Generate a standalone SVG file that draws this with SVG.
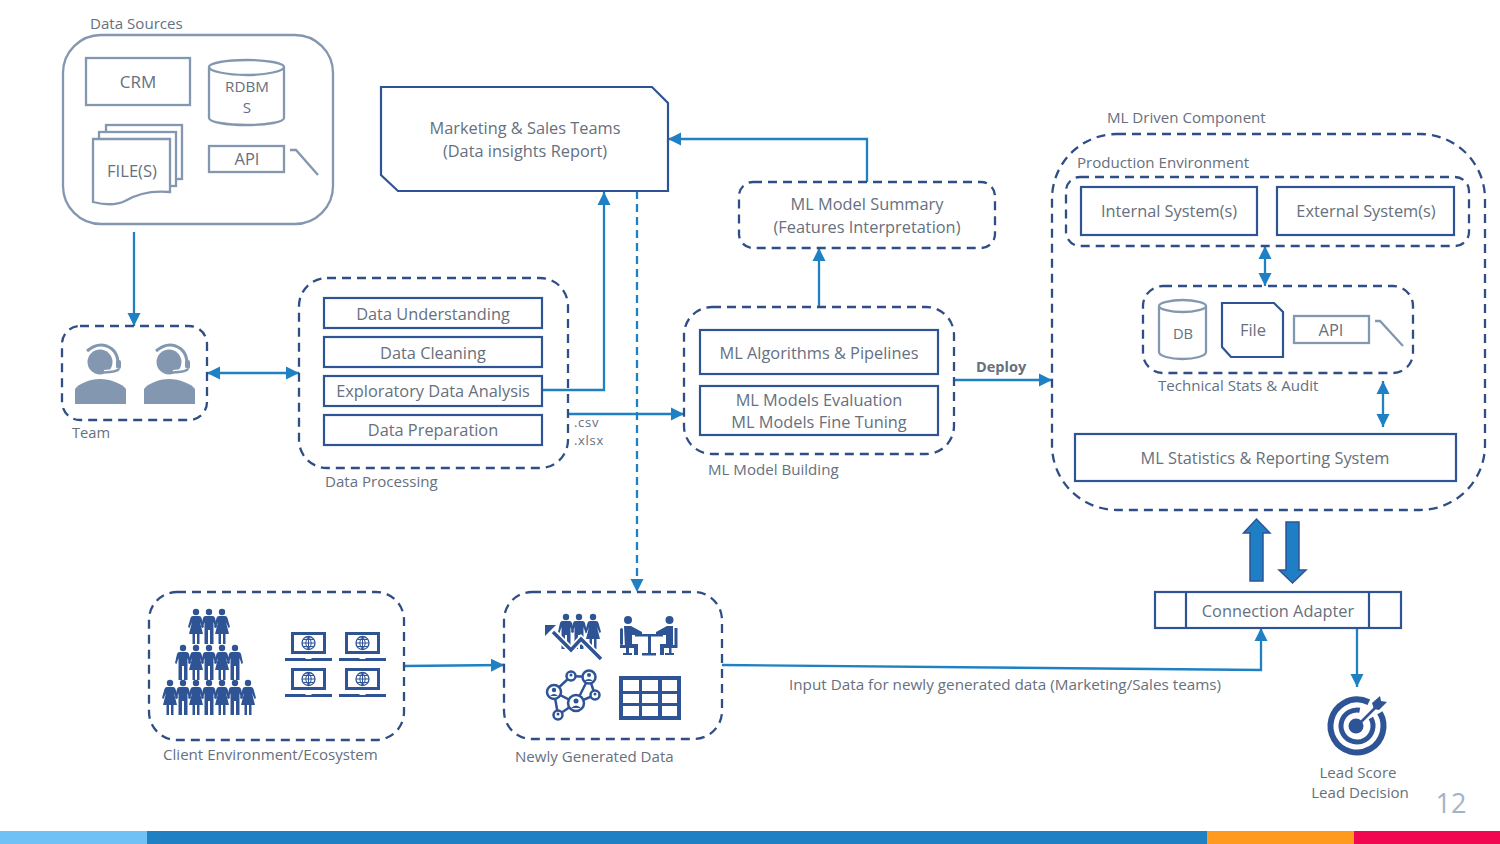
<svg xmlns="http://www.w3.org/2000/svg" xmlns:xlink="http://www.w3.org/1999/xlink" width="1500" height="844" viewBox="0 0 1500 844">
<style>
text{font-family:"Open Sans","Noto Sans","DejaVu Sans",sans-serif;fill:#66707E;font-size:15.1px}
.m{text-anchor:middle}
.l{font-size:16.35px}
.s{font-size:14.7px}
.x{font-size:13px;letter-spacing:.7px}
.g{fill:none;stroke:#8497B0;stroke-width:2.3}
.gw{fill:#fff;stroke:#8497B0;stroke-width:2.3}
.d{fill:none;stroke:#2F4E86;stroke-width:2.3;stroke-dasharray:9 6}
.b{fill:#fff;stroke:#2F5496;stroke-width:2.2}
.c{fill:none;stroke:#1F80C4;stroke-width:2.3}
.i{fill:#2F5496}
.ba{fill:#1F7FC4;stroke:#2F5496;stroke-width:1.5}
</style>
<defs>
<marker id="a" markerUnits="userSpaceOnUse" markerWidth="14" markerHeight="14" refX="13" refY="7" orient="auto-start-reverse"><path d="M0 0.5L13 7L0 13.500Z" fill="#1F80C4"/></marker>
<g id="man"><circle cx="0" cy="3" r="3.200"/><path d="M-3.500 7H3.500Q5.500 7 6 9L8 18L6.500 19L4.500 13V35H1V21H-1V35H-4.500V13L-6.500 19L-8 18L-6 9Q-5.500 7 -3.500 7Z"/></g>
<g id="woman"><circle cx="0" cy="3" r="3.200"/><path d="M-3 7H3Q5 7 5.500 9L8 18L6.500 19L4 13L7 25H3.500V35H1V25H-1V35H-3.500V25H-7L-4 13L-6.500 19L-8 18L-5.500 9Q-5 7 -3 7Z"/></g>
<g id="laptop"><rect x="7.500" y="1.500" width="32" height="19" fill="#fff" stroke="#2F5496" stroke-width="3"/><path d="M0 26H20L21 27H26L27 26H47V29H0Z" class="i"/><circle cx="23.500" cy="11" r="6.500" fill="#fff" stroke="#2F5496" stroke-width="1.300"/><path d="M17 11H30M23.500 4.500V17.500M18.500 7.500H28.500M18.500 14.500H28.500M23.500 4.500Q18 11 23.500 17.500Q29 11 23.500 4.500" fill="none" stroke="#2F5496" stroke-width="1"/></g>
<g id="agent" fill="#8497B0"><circle cx="25" cy="18" r="12.500"/><path d="M0 60V45C3 40 15 35 25 35S48 40 51 45V60Z"/><path d="M12 7Q25 -4 37 5Q43 10 43 20" fill="none" stroke="#8497B0" stroke-width="3"/><rect x="41" y="16" width="5" height="9" rx="2"/><path d="M44 25Q42 28 29 28.500" fill="none" stroke="#fff" stroke-width="5"/><path d="M44 25Q42 28 29 28.500" fill="none" stroke="#8497B0" stroke-width="2.500"/></g>
</defs>

<rect width="1500" height="844" fill="#fff"/>

<g id="footer">
<rect x="0" y="831" width="147" height="13" fill="#6FC1F6"/>
<rect x="147" y="831" width="1060" height="13" fill="#1F80C4"/>
<rect x="1207" y="831" width="147" height="13" fill="#FF9A1E"/>
<rect x="1354" y="831" width="146" height="13" fill="#F0074F"/>
<text x="1451" y="813" class="m" style="font-size:27px;fill:#A3B3C7">12</text>
</g>

<g id="connectors">
<path class="c" d="M134 232V326" marker-end="url(#a)"/>
<path class="c" d="M207 373H299" marker-start="url(#a)" marker-end="url(#a)"/>
<path class="c" d="M542 390H604V192" marker-end="url(#a)"/>
<path class="c" d="M637 191V592" stroke-dasharray="8 5" marker-end="url(#a)"/>
<path class="c" d="M568 414H684" marker-end="url(#a)"/>
<path class="c" d="M819 307V248" marker-end="url(#a)"/>
<path class="c" d="M867 182V139H668" marker-end="url(#a)"/>
<path class="c" d="M954 380H1052" marker-end="url(#a)"/>
<path class="c" d="M1265 246V286" marker-start="url(#a)" marker-end="url(#a)"/>
<path class="c" d="M1383 381V427" marker-start="url(#a)" marker-end="url(#a)"/>
<path class="c" d="M1357 628V687" marker-end="url(#a)"/>
<path class="c" d="M404 666L504 665" marker-end="url(#a)"/>
<path class="c" d="M722 665L1261 670V628" marker-end="url(#a)"/>
<path class="ba" d="M1250 581V533H1243.500L1256.500 519L1270 533H1263V581Z"/>
<path class="ba" d="M1286 522H1299V570H1306L1292.500 583L1279 570H1286Z"/>
</g>

<g id="data-sources">
<text x="90" y="29">Data Sources</text>
<rect class="g" x="63" y="35" width="270" height="189" rx="38"/>
<rect class="g" x="86" y="58" width="104" height="47"/>
<text x="138" y="88" class="m" style="font-size:17px">CRM</text>
<path class="g" d="M209 67V118C209 122 226 125 246.500 125S284 122 284 118V67C284 63 267 60 246.500 60S209 63 209 67C209 71 226 75 246.500 75S284 71 284 67"/>
<text x="247" y="92" class="m" style="font-size:15.2px">RDBM</text>
<text x="247" y="113" class="m" style="font-size:15.2px">S</text>
<rect class="g" x="209" y="146" width="75" height="26"/>
<text x="247" y="165" class="m" style="font-size:16.5px">API</text>
<path class="g" d="M290 150H296L318 175"/>
<rect class="gw" x="106" y="125" width="76" height="54"/>
<rect class="gw" x="99" y="132" width="77" height="54"/>
<path class="gw" d="M93 139H170V192C150 190 135 195 125 201C115 206 105 205 93 202Z"/>
<text x="132" y="177" class="m" style="font-size:16.6px">FILE(S)</text>
</g>

<g id="marketing">
<path class="b" d="M381 87H652L668 103V191H398L381 175Z"/>
<text x="525" y="134" class="m l">Marketing &amp; Sales Teams</text>
<text x="525" y="157" class="m l">(Data insights Report)</text>
</g>

<g id="ml-summary">
<rect class="d" x="739" y="182" width="256" height="66" rx="14"/>
<text x="867" y="210" class="m l">ML Model Summary</text>
<text x="867" y="233" class="m l">(Features Interpretation)</text>
</g>

<g id="team">
<rect class="d" x="62" y="326" width="145" height="94" rx="18"/>
<use xlink:href="#agent" href="#agent" x="75" y="344"/>
<use xlink:href="#agent" href="#agent" x="144" y="344"/>
<text x="72" y="438" class="s">Team</text>
</g>

<g id="data-processing">
<rect class="d" x="299" y="278" width="269" height="190" rx="28"/>
<rect class="b" x="324" y="298" width="218" height="30"/>
<text x="433" y="320" class="m l">Data Understanding</text>
<rect class="b" x="324" y="337" width="218" height="30"/>
<text x="433" y="359" class="m l">Data Cleaning</text>
<rect class="b" x="324" y="376" width="218" height="30"/>
<text x="433" y="397" class="m l">Exploratory Data Analysis</text>
<rect class="b" x="324" y="415" width="218" height="30"/>
<text x="433" y="436" class="m l">Data Preparation</text>
<text x="325" y="487">Data Processing</text>
</g>
<g id="file-formats">
<text x="574" y="427" class="x">.csv</text>
<text x="574" y="445" class="x">.xlsx</text>
</g>

<g id="ml-building">
<rect class="d" x="684" y="307" width="270" height="147" rx="28"/>
<rect class="b" x="700" y="330" width="238" height="44"/>
<text x="819" y="359" class="m l">ML Algorithms &amp; Pipelines</text>
<rect class="b" x="700" y="386" width="238" height="49"/>
<text x="819" y="406" class="m l">ML Models Evaluation</text>
<text x="819" y="428" class="m l">ML Models Fine Tuning</text>
<text x="708" y="475">ML Model Building</text>
</g>
<text id="deploy" x="976" y="372" style="font-weight:700;font-size:14.500px">Deploy</text>

<g id="ml-driven">
<text x="1107" y="123">ML Driven Component</text>
<rect class="d" x="1052" y="134" width="433" height="376" rx="65"/>
</g>
<g id="production">
<text x="1077" y="168">Production Environment</text>
<rect class="d" x="1066" y="177" width="403" height="69" rx="14"/>
<rect class="b" x="1081" y="187" width="176" height="48"/>
<text x="1169" y="217" class="m l">Internal System(s)</text>
<rect class="b" x="1277" y="187" width="177" height="48"/>
<text x="1366" y="217" class="m l">External System(s)</text>
</g>
<g id="technical">
<rect class="d" x="1143" y="286" width="270" height="87" rx="20"/>
<path class="g" d="M1159 306V352C1159 356 1170 359 1182.500 359S1206 356 1206 352V306C1206 303 1195 300 1182.500 300S1159 303 1159 306C1159 309 1170 312 1182.500 312S1206 309 1206 306"/>
<text x="1183" y="339" class="m s">DB</text>
<path class="b" d="M1222 303H1274L1283 312V357H1231L1222 347Z"/>
<text x="1253" y="336" class="m" style="font-size:16.5px">File</text>
<rect class="g" x="1294" y="316" width="75" height="27"/>
<text x="1331" y="336" class="m" style="font-size:16.5px">API</text>
<path class="g" d="M1375 321H1380L1403 346"/>
<text x="1158" y="391">Technical Stats &amp; Audit</text>
</g>
<g id="reporting">
<rect class="b" x="1075" y="434" width="381" height="47"/>
<text x="1265" y="464" class="m l">ML Statistics &amp; Reporting System</text>
</g>

<g id="adapter">
<rect class="b" x="1155" y="592" width="246" height="36"/>
<path class="b" d="M1186 592V628M1369 592V628"/>
<text x="1278" y="617" class="m l">Connection Adapter</text>
</g>

<g id="lead-score">
<circle cx="1357" cy="726" r="26.500" fill="none" stroke="#2F5496" stroke-width="6" stroke-dasharray="150 17" transform="rotate(-30 1357 726)"/>
<circle cx="1357" cy="726" r="16" fill="none" stroke="#2F5496" stroke-width="5" stroke-dasharray="86 15" transform="rotate(-30 1357 726)"/>
<circle cx="1356" cy="726" r="7.500" class="i"/>
<path d="M1358 725L1378 705" stroke="#2F5496" stroke-width="2.500"/>
<path class="i" d="M1372 703L1380 696L1381 701L1387 702L1379 710L1374 709Z"/>
<text x="1358" y="778" class="m">Lead Score</text>
<text x="1360" y="798" class="m">Lead Decision</text>
</g>

<g id="client-env">
<rect class="d" x="149" y="592" width="255" height="148" rx="28"/>
<g class="i">
<use xlink:href="#woman" href="#woman" x="196" y="609"/><use xlink:href="#man" href="#man" x="209" y="609"/><use xlink:href="#woman" href="#woman" x="222" y="609"/>
<use xlink:href="#man" href="#man" x="183" y="645"/><use xlink:href="#woman" href="#woman" x="196" y="645"/><use xlink:href="#man" href="#man" x="209" y="645"/><use xlink:href="#woman" href="#woman" x="222" y="645"/><use xlink:href="#man" href="#man" x="235" y="645"/>
<use xlink:href="#woman" href="#woman" x="170" y="680"/><use xlink:href="#man" href="#man" x="183" y="680"/><use xlink:href="#woman" href="#woman" x="196" y="680"/><use xlink:href="#man" href="#man" x="209" y="680"/><use xlink:href="#woman" href="#woman" x="222" y="680"/><use xlink:href="#man" href="#man" x="235" y="680"/><use xlink:href="#woman" href="#woman" x="248" y="680"/>
</g>
<use xlink:href="#laptop" href="#laptop" x="285" y="632"/>
<use xlink:href="#laptop" href="#laptop" x="339" y="632"/>
<use xlink:href="#laptop" href="#laptop" x="285" y="668"/>
<use xlink:href="#laptop" href="#laptop" x="339" y="668"/>
<text x="163" y="760">Client Environment/Ecosystem</text>
</g>

<g id="newly-generated">
<rect class="d" x="504" y="592" width="218" height="147" rx="28"/>
<g class="i">
<use xlink:href="#man" href="#man" x="566" y="614"/>
<use xlink:href="#man" href="#man" x="579" y="614"/>
<use xlink:href="#woman" href="#woman" x="593" y="614"/>
</g>
<path d="M553 632L571 650L581 639L601 659" fill="none" stroke="#fff" stroke-width="7"/>
<path d="M553 632L571 650L581 639L601 659" fill="none" stroke="#2F5496" stroke-width="3.500"/>
<path class="i" d="M545 625H556L545 636Z"/>
<g class="i">
<circle cx="628" cy="620" r="4"/>
<circle cx="669.500" cy="620" r="4"/>
<g id="seat-left">
<rect x="620" y="628" width="3" height="17" rx="1.500"/>
<rect x="620" y="645" width="15" height="3"/><rect x="626" y="648" width="3" height="5"/><rect x="623" y="653" width="9" height="2"/>
<path d="M624 626H631L642 632V635H632V644H638V655H634V648H625Z"/>
</g>
<path d="M677.500 628H674.500V645H662V648H669V653H665V655H674V653H671.500V648H677.500ZM673 626H667L656 632V635H666V644H660V655H664V648H673Z"/>
<rect x="635" y="634" width="28" height="2.500"/><rect x="648" y="634" width="3" height="20"/><rect x="642" y="653" width="14" height="2.500"/>
</g>
<g fill="#fff" stroke="#2F5496" stroke-width="2.500">
<path d="M554 692L571 676L589 677L576 703L558 715L554 692L576 703L595 695L589 677" fill="none"/>
<circle cx="554" cy="692" r="7"/><circle cx="571" cy="676" r="4.500"/><circle cx="589" cy="677" r="6.500"/><circle cx="576" cy="703" r="8"/><circle cx="595" cy="695" r="4.500"/><circle cx="558" cy="715" r="4.500"/>
</g>
<g class="i"><circle cx="554" cy="690" r="2.200"/><circle cx="571" cy="675" r="1.500"/><circle cx="589" cy="675" r="2"/><circle cx="576" cy="701" r="2.500"/><circle cx="595" cy="694" r="1.500"/><circle cx="558" cy="714" r="1.500"/>
<path d="M550 696Q554 692 558 696Z M584 681Q589 677 593 681Z M571 708Q576 703 581 708Z"/></g>
<path class="i" fill-rule="evenodd" d="M619 676H681V720H619ZM623 680V691H639V680ZM642 680V691H658V680ZM662 680V691H677V680ZM623 694V703H639V694ZM642 694V703H658V694ZM662 694V703H677V694ZM623 706V716H639V706ZM642 706V716H658V706ZM662 706V716H677V706Z"/>
<text x="515" y="762">Newly Generated Data</text>
</g>
<text id="input-label" x="789" y="690" style="font-size:15.25px">Input Data for newly generated data (Marketing/Sales teams)</text>
</svg>
